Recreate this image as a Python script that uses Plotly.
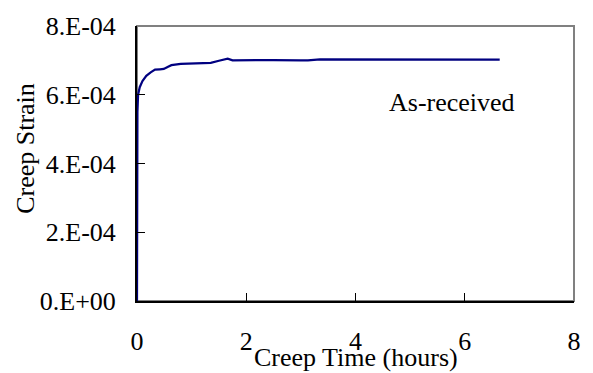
import plotly.graph_objects as go

time_h = [0, 0.003, 0.008, 0.02, 0.05, 0.1, 0.17, 0.25, 0.33, 0.42, 0.49, 0.56, 0.63,
          0.8, 1.0, 1.2, 1.35, 1.5, 1.66, 1.75, 2.0, 2.5, 3.0, 3.13, 3.35, 4.0, 5.0, 6.0, 6.64]
strain = [0, 3.0e-4, 5.5e-4, 6.0e-4, 6.22e-4, 6.4e-4, 6.55e-4, 6.65e-4, 6.73e-4, 6.74e-4,
          6.75e-4, 6.81e-4, 6.86e-4, 6.9e-4, 6.91e-4, 6.92e-4, 6.93e-4, 6.99e-4, 7.05e-4,
          7.0e-4, 7.01e-4, 7.01e-4, 7.0e-4, 7.0e-4, 7.03e-4, 7.03e-4, 7.03e-4, 7.02e-4, 7.02e-4]

y_ticks = [0, 2e-4, 4e-4, 6e-4, 8e-4]
y_labels = ["0.E+00", "2.E-04", "4.E-04", "6.E-04", "8.E-04"]
x_ticks = [0, 2, 4, 6, 8]

FONT = "Liberation Serif"
FS = 26

fig = go.Figure()
fig.add_trace(go.Scatter(x=time_h, y=strain, mode="lines",
                         line=dict(color="#000080", width=2.2), showlegend=False))

fig.update_layout(
    width=593, height=373,
    margin=dict(l=137, r=17, t=20, b=72),
    paper_bgcolor="white", plot_bgcolor="white",
    font=dict(family=FONT, size=FS, color="black"),
    xaxis=dict(range=[0, 8], tickvals=x_ticks, ticks="inside", ticklen=8,
               tickcolor="black", showline=True, linecolor="black", linewidth=2,
               showgrid=False, zeroline=False, ticklabelstandoff=16),
    yaxis=dict(range=[0, 8e-4], tickvals=y_ticks, ticktext=y_labels, ticks="inside",
               ticklen=8, tickcolor="black", showline=True, linecolor="black",
               linewidth=2, showgrid=False, zeroline=False, ticklabelstandoff=14),
    shapes=[dict(type="rect", xref="paper", yref="paper", x0=0, x1=1, y0=0, y1=1,
                 line=dict(color="#808080", width=2), layer="below")],
    annotations=[
        dict(text="As-received", xref="paper", yref="paper", x=0.72, y=0.722,
             xanchor="center", yanchor="middle", showarrow=False,
             font=dict(family=FONT, size=FS)),
        dict(text="Creep Time (hours)", xref="paper", yref="paper", x=0.5,
             y=(301 - 359) / 281, xanchor="center", yanchor="middle", showarrow=False,
             font=dict(family=FONT, size=FS)),
        dict(text="Creep Strain", xref="paper", yref="paper", x=(25 - 137) / 439,
             y=(301 - 145) / 281, xanchor="center", yanchor="middle", textangle=-90,
             showarrow=False, font=dict(family=FONT, size=FS)),
    ],
)

fig.write_html("out.html")
